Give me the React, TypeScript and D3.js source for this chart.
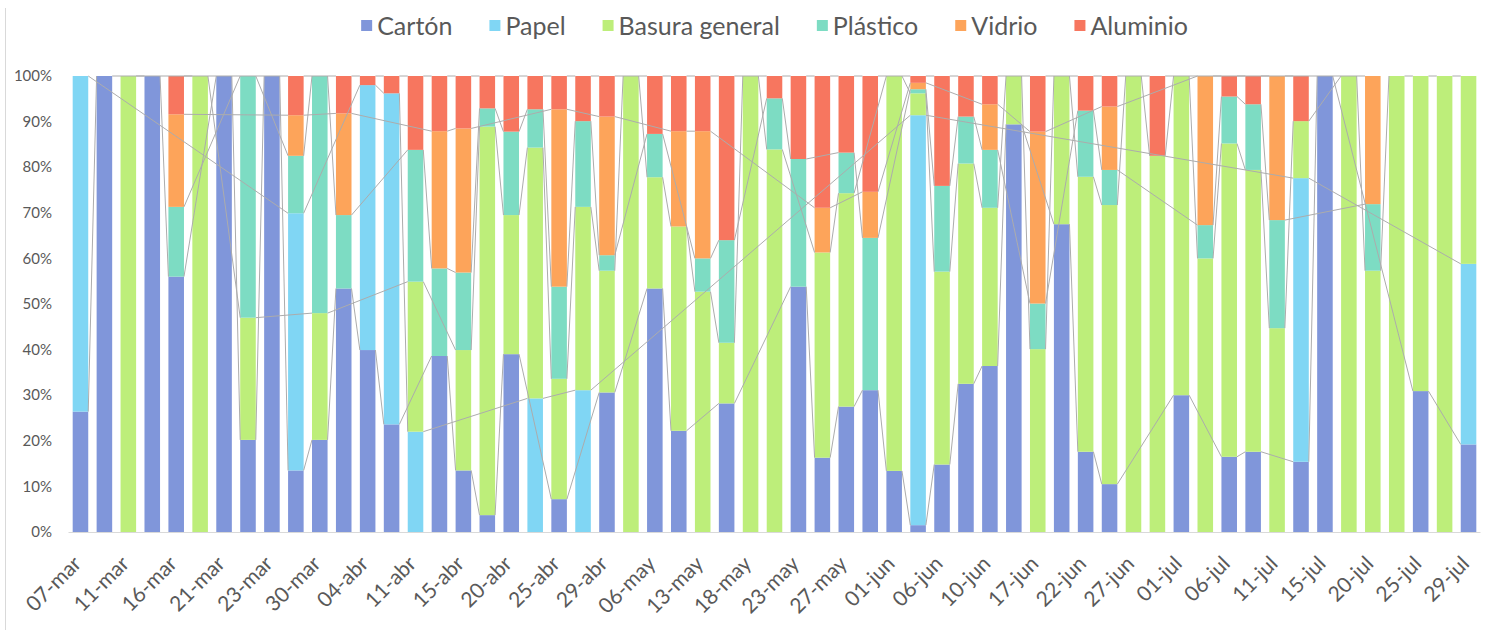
import React, { useEffect, useRef } from 'react';
import * as d3 from 'd3';

const categories = [
  '07-mar', '09-mar', '11-mar', '14-mar', '16-mar', '18-mar', '21-mar', '22-mar', '23-mar', '28-mar',
  '30-mar', '01-abr', '04-abr', '08-abr', '11-abr', '13-abr', '15-abr', '18-abr', '20-abr', '22-abr',
  '25-abr', '27-abr', '29-abr', '04-may', '06-may', '11-may', '13-may', '16-may', '18-may', '20-may',
  '23-may', '25-may', '27-may', '30-may', '01-jun', '03-jun', '06-jun', '08-jun', '10-jun', '15-jun',
  '17-jun', '20-jun', '22-jun', '24-jun', '27-jun', '29-jun', '01-jul', '04-jul', '06-jul', '08-jul',
  '11-jul', '13-jul', '15-jul', '18-jul', '20-jul', '22-jul', '25-jul', '27-jul', '29-jul',
];

const carton = [
  26.4, 100, 0, 100, 56.0, 0, 100, 20.2, 100, 13.5,
  20.2, 53.4, 39.9, 23.6, 0, 38.6, 13.5, 3.7, 39.0, 0,
  7.2, 0, 30.6, 0, 53.4, 22.2, 0, 28.2, 0, 0,
  53.8, 16.3, 27.5, 31.1, 13.4, 1.5, 14.8, 32.5, 36.4, 89.4,
  0, 67.5, 17.6, 10.5, 0, 0, 30.0, 0, 16.5, 17.6,
  0, 15.4, 100, 0, 0, 0, 30.9, 0, 19.2,
];
const papel = [
  73.6, 0, 0, 0, 0, 0, 0, 0, 0, 56.4,
  0, 0, 58.1, 72.6, 22.0, 0, 0, 0, 0, 29.3,
  0, 31.1, 0, 0, 0, 0, 0, 0, 0, 0,
  0, 0, 0, 0, 0, 89.9, 0, 0, 0, 0,
  0, 0, 0, 0, 0, 0, 0, 0, 0, 0,
  0, 62.2, 0, 0, 0, 0, 0, 0, 39.6,
];
const basura = [
  0, 0, 100, 0, 0, 100, 0, 26.8, 0, 0,
  27.8, 0, 0, 0, 32.9, 0, 26.4, 85.2, 30.5, 55.0,
  26.4, 40.2, 26.7, 100, 24.4, 44.8, 52.7, 13.3, 100, 83.9,
  0, 45.0, 46.8, 0, 86.6, 4.8, 42.3, 48.3, 34.7, 10.6,
  40.1, 32.5, 60.3, 61.2, 100, 82.5, 70.0, 60.0, 68.7, 61.8,
  44.7, 12.5, 0, 100, 57.3, 100, 69.1, 100, 41.2,
];
const plastico = [
  0, 0, 0, 0, 15.3, 0, 0, 53.0, 0, 12.6,
  52.0, 16.1, 0, 0, 28.9, 19.2, 17.0, 4.0, 18.3, 8.4,
  20.2, 18.8, 3.4, 0, 9.5, 0, 7.3, 22.5, 0, 11.2,
  28.0, 0, 8.9, 33.4, 0, 0.9, 18.8, 10.3, 12.7, 0,
  10.0, 0, 14.5, 7.7, 0, 0, 0, 7.3, 10.3, 14.4,
  23.7, 0, 0, 0, 14.6, 0, 0, 0, 0,
];
const vidrio = [
  0, 0, 0, 0, 20.3, 0, 0, 0, 0, 8.9,
  0, 22.3, 0, 0, 0, 30.1, 31.6, 0, 0, 0,
  38.9, 0, 30.4, 0, 0, 20.9, 27.9, 0, 0, 0,
  0, 9.8, 0, 10.1, 0, 1.4, 0, 0, 10.0, 0,
  37.7, 0, 0, 13.9, 0, 0, 0, 32.7, 0, 0,
  31.6, 0, 0, 0, 28.1, 0, 0, 0, 0,
];
const aluminio = [
  0, 0, 0, 0, 8.4, 0, 0, 0, 0, 8.6,
  0, 8.2, 2.0, 3.8, 16.2, 12.1, 11.5, 7.1, 12.2, 7.3,
  7.3, 9.9, 8.9, 0, 12.7, 12.1, 12.1, 36.0, 0, 4.9,
  18.2, 28.9, 16.8, 25.4, 0, 1.5, 24.1, 8.9, 6.2, 0,
  12.2, 0, 7.6, 6.7, 0, 17.5, 0, 0, 4.5, 6.2,
  0, 9.9, 0, 0, 0, 0, 0, 0, 0,
];

const seriesNames = ['Cartón', 'Papel', 'Basura general', 'Plástico', 'Vidrio', 'Aluminio'];
const seriesValues = [carton, papel, basura, plastico, vidrio, aluminio];
const seriesColors = ['#8096da', '#80d6f4', '#bdee7a', '#7ddcc3', '#fda45a', '#f7765f'];
const yTicks = [0, 0.1, 0.2, 0.3, 0.4, 0.5, 0.6, 0.7, 0.8, 0.9, 1];

const FONT = 'Lato, "Open Sans", sans-serif';

export default function App() {
  const ref = useRef<SVGSVGElement>(null);

  useEffect(() => {
    const W = 1497;
    const H = 630;
    const svg = d3.select(ref.current);
    svg.selectAll('*').remove();
    svg.attr('width', W).attr('height', H);

    const left = 68.5, right = 1480.5, top = 76, bottom = 532;

    const rows = categories.map((c, i) => {
      const r: any = { cat: c };
      seriesNames.forEach((s, k) => (r[s] = seriesValues[k][i]));
      return r;
    });

    const stack = d3.stack<any>().keys(seriesNames).offset(d3.stackOffsetExpand);
    const layers = stack(rows);

    const x = d3.scaleBand<string>().domain(categories).range([left, right]).paddingInner(0.35).paddingOuter(0.175);
    const y = d3.scaleLinear().domain([0, 1]).range([bottom, top]);

    svg.append('rect').attr('x', 0).attr('y', 0).attr('width', W).attr('height', H).attr('fill', '#ffffff');
    // chart border (left edge visible)
    svg.append('line').attr('x1', 5.5).attr('x2', 5.5).attr('y1', 8).attr('y2', H).attr('stroke', '#d9d9d9').attr('stroke-width', 1);

    // bars
    const g = svg.append('g');
    layers.forEach((layer, k) => {
      g.append('g')
        .attr('fill', seriesColors[k])
        .selectAll('rect')
        .data(layer.map((d, i) => ({ d, i })).filter((o) => seriesValues[k][o.i] > 0))
        .join('rect')
        .attr('x', (o) => x(categories[o.i])!)
        .attr('width', x.bandwidth())
        .attr('y', (o) => y(o.d[1]))
        .attr('height', (o) => y(o.d[0]) - y(o.d[1]));
    });

    // series lines (connect tops of consecutive non-blank points of each series)
    const lg = svg.append('g').attr('stroke', '#acacac').attr('stroke-width', 1).attr('fill', 'none');
    layers.forEach((layer, k) => {
      const idx = seriesValues[k].map((v, i) => (v > 0 ? i : -1)).filter((i) => i >= 0);
      for (let n = 0; n < idx.length - 1; n++) {
        const a = idx[n], b = idx[n + 1];
        lg.append('line')
          .attr('x1', x(categories[a])! + x.bandwidth())
          .attr('y1', y(layer[a][1]))
          .attr('x2', x(categories[b])!)
          .attr('y2', y(layer[b][1]));
      }
    });

    // x axis line
    svg.append('line').attr('x1', left).attr('x2', right).attr('y1', bottom + 0.5).attr('y2', bottom + 0.5)
      .attr('stroke', '#d9d9d9').attr('stroke-width', 1);

    // y labels
    const fmt = d3.format('.0%');
    svg.append('g').selectAll('text').data(yTicks).join('text')
      .attr('x', 52).attr('y', (d) => y(d)).attr('dy', '0.35em')
      .attr('text-anchor', 'end')
      .attr('font-family', FONT).attr('font-size', 15).attr('fill', '#595959')
      .text((d) => fmt(d));

    // x labels (every other category)
    svg.append('g').selectAll('text').data(categories.filter((_, i) => i % 2 === 0)).join('text')
      .attr('transform', (c) => `translate(${x(c)! + x.bandwidth() / 2 + 2},${bottom + 33}) rotate(-45)`)
      .attr('text-anchor', 'end')
      .attr('font-family', FONT).attr('font-size', 21).attr('fill', '#595959')
      .text((c) => c);

    // legend
    const leg = svg.append('g');
    const items = seriesNames.map((s, k) => {
      const it = leg.append('g');
      it.append('rect').attr('x', 0).attr('y', -6).attr('width', 11).attr('height', 11).attr('fill', seriesColors[k]);
      const t = it.append('text').attr('x', 16).attr('y', 0).attr('dy', '0.35em')
        .attr('font-family', FONT).attr('font-size', 25).attr('fill', '#595959').text(s);
      const w = 16 + (t.node() as SVGTextElement).getComputedTextLength();
      return { it, w };
    });
    const gap = 37;
    const total = items.reduce((a, b) => a + b.w, 0) + gap * (items.length - 1);
    let cx = (left + right) / 2 - total / 2;
    items.forEach(({ it, w }) => {
      it.attr('transform', `translate(${cx},26)`);
      cx += w + gap;
    });
  }, []);

  return <svg ref={ref} style={{ position: 'absolute', left: 0, top: 0, display: 'block' }} />;
}
